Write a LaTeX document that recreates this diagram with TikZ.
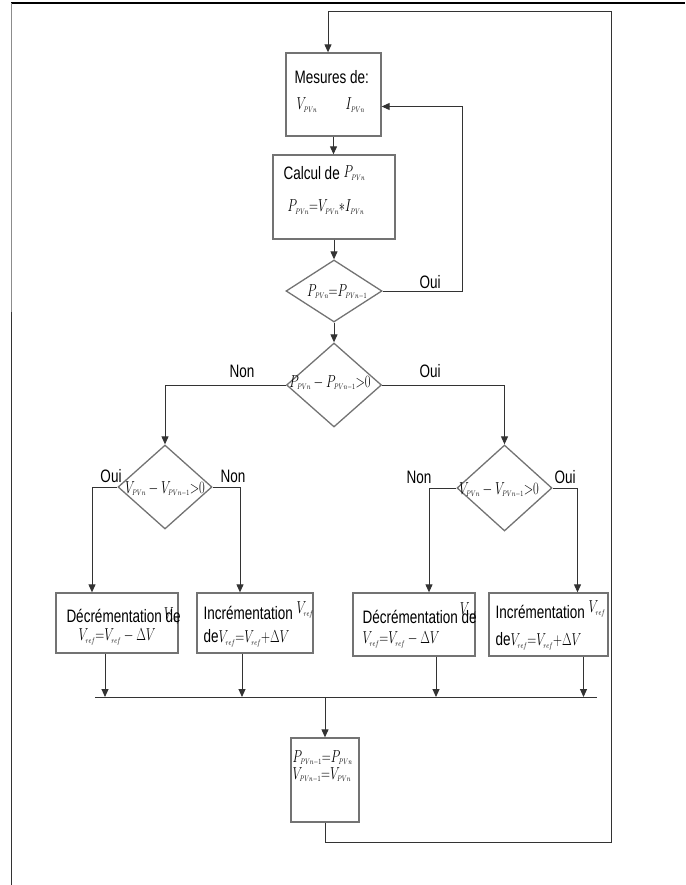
\documentclass[tikz,border=0pt]{standalone}
\usepackage{fontspec}
\setmainfont[FakeStretch=0.75]{Liberation Sans}
\usetikzlibrary{arrows.meta,shapes.geometric}

\newcommand{\subpv}{\scriptscriptstyle PVn}
\newcommand{\subpm}{\scriptscriptstyle PVn-1}
\newcommand{\subrf}{\scriptscriptstyle ref}
\newcommand{\fm}[1]{{\fontsize{17}{19}\selectfont\scalebox{0.72}[1]{$#1$}}}

\begin{document}
\begin{tikzpicture}[x=1pt, y=-1pt, line width=1pt,
  font=\fontsize{18}{20}\selectfont,
  ln/.style={draw=black!80},
  arr/.style={draw=black!80, -{Triangle[length=8pt,width=7pt]}},
  box/.style={draw=black!55, line width=1.3pt, inner sep=0pt},
  dia/.style={draw=black!55, line width=1.3pt, diamond, inner sep=0pt},
  txt/.style={inner sep=0pt, anchor=west}]
\useasboundingbox (0,0) rectangle (685,885);

% page edges
\draw[black, line width=1.2pt] (11,3) -- (685,3);
\draw[black!45] (11,3) -- (11,312);
\draw[black!80] (11,312) -- (11,885);

% measures and power
\node[box, minimum width=95pt, minimum height=83pt] (mes) at (333.5,94.5) {};
\node[txt] (mesT) at (294,77) {Mesures de:};
\node[txt] (mesV) at (296,105) {\fm{V_{\subpv}}};
\node[txt] (mesI) at (345,105) {\fm{I_{\subpv}}};

\node[box, minimum width=122pt, minimum height=84pt] (cal) at (334,197) {};
\node[txt] (calT) at (283,173) {Calcul de \raisebox{2pt}[0pt][0pt]{\fm{P_{\subpv}}}};
\node[txt] (calF) at (287,207) {\fm{P_{\subpv}{=}V_{\subpv}{*}I_{\subpv}}};

% tests
\node[dia, minimum width=96pt, minimum height=62pt] (eg) at (334,291) {};
\node (egT) at (337,292) {\fm{P_{\subpv}{=}P_{\subpm}}};
\node[dia, minimum width=95pt, minimum height=84pt] (dp) at (334,385) {};
\node (dpT) at (330,383) {\fm{P_{\subpv}-P_{\subpm}{>}0}};
\node[dia, minimum width=94pt, minimum height=84pt] (dvl) at (165,487) {};
\node (dvlT) at (165,489) {\fm{V_{\subpv}-V_{\subpm}{>}0}};
\node[dia, minimum width=95pt, minimum height=86pt] (dvr) at (504.5,488) {};
\node (dvrT) at (499,490) {\fm{V_{\subpv}-V_{\subpm}{>}0}};

% Vref updates
\node[box, minimum width=122pt, minimum height=60pt] (decL) at (117,623) {};
\node[txt] (decLa) at (66,616) {Décrémentation de\llap{\raisebox{3pt}[0pt][0pt]{\fm{V_{\subrf}}}}};
\node[txt] (decLb) at (78,637) {\fm{V_{\subrf}{=}V_{\subrf}-\Delta V}};
\node[box, minimum width=116pt, minimum height=60pt] (incL) at (255,623) {};
\node[txt] (incLa) at (203,613) {Incrémentation \raisebox{6pt}[0pt][0pt]{\fm{V_{\subrf}}}};
\node[txt] (incLb) at (203,638) {de\fm{V_{\subrf}{=}V_{\subrf}{+}\Delta V}};
\node[box, minimum width=122pt, minimum height=63pt] (decR) at (414,624.5) {};
\node[txt] (decRa) at (362,617) {Décrémentation de\llap{\raisebox{9pt}[0pt][0pt]{\fm{V_{\subrf}}}}};
\node[txt] (decRb) at (362,640) {\fm{V_{\subrf}{=}V_{\subrf}-\Delta V}};
\node[box, minimum width=119pt, minimum height=63pt] (incR) at (548.5,624.5) {};
\node[txt] (incRa) at (495,612) {Incrémentation \raisebox{6pt}[0pt][0pt]{\fm{V_{\subrf}}}};
\node[txt] (incRb) at (495,641) {de\fm{V_{\subrf}{=}V_{\subrf}{+}\Delta V}};

% memory update
\node[box, minimum width=68pt, minimum height=84pt] (maj) at (325,780) {};
\node[txt] (majP) at (292,758) {\fm{P_{\subpm}{=}P_{\subpv}}};
\node[txt] (majV) at (292,775) {\fm{V_{\subpm}{=}V_{\subpv}}};

% branch labels
\node (ouiA) at (430,282) {Oui};
\node (nonB) at (242,371) {Non};
\node (ouiB) at (430,371) {Oui};
\node (ouiC) at (111,476) {Oui};
\node (nonC) at (233,476) {Non};
\node (nonD) at (419,477) {Non};
\node (ouiD) at (565,477) {Oui};

\coordinate (topL) at (328,12);
\coordinate (topR) at (611,12);
\coordinate (botR) at (611,842);
\coordinate (ouiE) at (462,291);
\coordinate (busL) at (95,697);
\coordinate (busR) at (597,697);

\draw[arr] (mes.south) -- (mes.south |- cal.north);
\draw[arr] (cal.south) -- (eg.north);
\draw[arr] (eg.south) -- (dp.north);
\draw[arr] (eg.east) -- (ouiE) |- ([yshift=-12pt]mes.east);
\draw[arr] (dp.west) -| (dvl.north);
\draw[arr] (dp.east) -| (dvr.north);
\draw[arr] (dvl.west) -| ([xshift=-25pt]decL.north);
\draw[arr] (dvl.east) -| ([xshift=-15pt]incL.north);
\draw[arr] (dvr.west) -| ([xshift=15pt]decR.north);
\draw[arr] (dvr.east) -| ([xshift=29pt]incR.north);
\draw[ln] (busL) -- (busR);
\foreach \b/\dx in {decL/-12,incL/-13,decR/22,incR/35}
  \draw[arr] ([xshift=\dx pt]\b.south) -- ([xshift=\dx pt]\b.south |- busL);
\draw[arr] (maj.north |- busL) -- (maj.north);
\draw[arr] (maj.south) -- (maj.south |- botR) -- (botR) -- (topR) -- (topL) -- (topL |- mes.north);

\end{tikzpicture}
\end{document}
